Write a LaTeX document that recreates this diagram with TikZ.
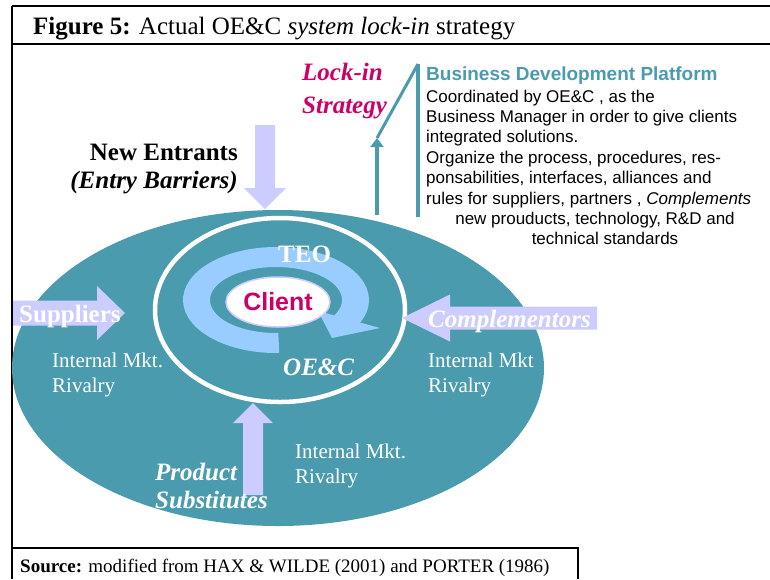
\documentclass[tikz,border=0pt]{standalone}
\usepackage{fontspec}
\setmainfont{Liberation Serif}
\setsansfont{Liberation Sans}
\usetikzlibrary{arrows.meta}
\usetikzlibrary{shapes.geometric}

\definecolor{marketteal}{RGB}{74,155,174}
\definecolor{forcelilac}{RGB}{204,204,255}
\definecolor{loopblue}{RGB}{153,204,255}
\definecolor{lockred}{RGB}{204,0,102}

% fat arrow: tip x, tip y, rotation, shaft length, shaft half width, head length, head half width
\newcommand{\forcearrow}[7]{\fill[forcelilac, shift={(#1,#2)}, rotate=#3] (0,0) -- (-#6,-#7) -- (-#6,-#5) -- (-#6-#4,-#5) -- (-#6-#4,#5) -- (-#6,#5) -- (-#6,#7) -- cycle;}
\newcommand{\rivalry}[4]{\node[rivaltext] (#3a) at (#1,#2) {#4}; \node[rivaltext] (#3b) at (#1,#2+25) {Rivalry};}

\begin{document}
\begin{tikzpicture}[x=1pt,y=-1pt,
    every node/.style={inner sep=0pt},
    frameline/.style={black, line width=2pt},
    bigserif/.style={anchor=base west, font=\fontsize{25}{28}\selectfont\bfseries},
    forcetext/.style={bigserif, text=white},
    rivaltext/.style={anchor=base west, text=white, font=\fontsize{21}{25}\selectfont},
    locktext/.style={bigserif, text=lockred, font=\fontsize{25}{28}\selectfont\bfseries\itshape},
    bodytext/.style={anchor=base west, font=\sffamily\fontsize{17}{20}\selectfont},
    lockline/.style={marketteal, line width=3.5pt}]
\useasboundingbox (0,0) rectangle (770,579);

        % frame
        \draw[frameline, line width=1.7pt] (12,6) -- (770,6);
        \draw[frameline, line width=2.6pt] (12,44) -- (770,44);
        \draw[frameline] (12,6) -- (12,579);
        \draw[frameline, line width=2.6pt] (12,548) -- (578,548) -- (578,579);

        \node[anchor=base west, font=\fontsize{25}{28}\selectfont] (title) at (33,34)
            {\textbf{Figure 5:} Actual OE\&C \textit{system lock-in} strategy};
        \node[anchor=base west, font=\fontsize{19}{22}\selectfont] (source) at (20,572)
            {\textbf{Source:} modified from HAX \& WILDE (2001) and PORTER (1986)};

        % market and inner ring
        \fill[marketteal] (278,368) ellipse [x radius=266, y radius=158];
        \draw[white, line width=4.5pt] (280,310) ellipse [x radius=125, y radius=92];

        % loop around the client
        \begin{scope}[shift={(276,300)}]
            \fill[loopblue] (88:93 and 53) arc[start angle=88, end angle=390, x radius=93, y radius=53]
                -- (390:66 and 33) arc[start angle=390, end angle=88, x radius=66, y radius=33] -- cycle;
        \end{scope}
        \fill[loopblue] (318,311) -- (332,338) -- (380,328) -- cycle;

        \node[ellipse, draw=forcelilac, line width=1.5pt, fill=white, minimum width=104pt, minimum height=50pt,
            text=lockred, font=\sffamily\bfseries\fontsize{25}{28}\selectfont] (client) at (278,302) {Client};
        \node[forcetext] (teo) at (278,262) {TEO};
        \node[forcetext, font=\fontsize{25}{28}\selectfont\bfseries\itshape] (oec) at (283,375) {OE\&C};

        % five forces
        \forcearrow{265}{209}{-90}{63}{10}{21}{21}
        \forcearrow{125}{313}{0}{84}{12.5}{28}{27}
        \forcearrow{402}{318}{180}{147}{11.5}{48}{23.5}
        \forcearrow{253}{403}{90}{72}{10}{20}{20}

        \node[bigserif, anchor=base east] (entrants) at (238,160) {New Entrants};
        \node[bigserif, anchor=base east, font=\fontsize{25}{28}\selectfont\bfseries\itshape] (barriers) at (238,188) {(Entry Barriers)};
        \node[forcetext] (suppliers) at (19,322) {Suppliers};
        \node[forcetext, font=\fontsize{25}{28}\selectfont\bfseries\itshape] (complementors) at (428,327) {Complementors};
        \node[forcetext, font=\fontsize{25}{28}\selectfont\bfseries\itshape] (product) at (155,480) {Product};
        \node[forcetext, font=\fontsize{25}{28}\selectfont\bfseries\itshape] (substitutes) at (155,508) {Substitutes};

        \rivalry{52}{367}{rivL}{Internal Mkt.}
        \rivalry{428}{367}{rivR}{Internal Mkt}
        \rivalry{295}{458}{rivB}{Internal Mkt.}

        % lock-in strategy
        \node[locktext] (lockin) at (302,80) {Lock-in};
        \node[locktext] (strategy) at (302,113) {Strategy};
        \coordinate (stembase) at (377,215);
        \coordinate (stemtip) at (377,138);
        \coordinate (bartop) at (418,64);
        \coordinate (barbot) at (418,217);
        \draw[lockline, line width=4pt, -{Triangle[length=9pt,width=13pt]}] (stembase) -- (stemtip);
        \draw[lockline, line width=3pt] (stemtip) -- (bartop);
        \draw[lockline, line width=3.3pt] (bartop) -- (barbot);

        \node[anchor=base west, text=marketteal, font=\sffamily\bfseries\fontsize{19}{21}\selectfont] (platform) at (426,80) {Business Development Platform};
        \node[bodytext] (body1) at (426,102) {Coordinated by OE\&C , as the};
        \node[bodytext] (body2) at (426,122.4) {Business Manager in order to give clients};
        \node[bodytext] (body3) at (426,142.8) {integrated solutions.};
        \node[bodytext] (body4) at (426,163.2) {Organize the process, procedures, res-};
        \node[bodytext] (body5) at (426,183.6) {ponsabilities, interfaces, alliances and};
        \node[bodytext] (body6) at (426,204) {rules for suppliers, partners , \textit{Complements}};
        \node[bodytext, anchor=base] (body7) at (595,224.4) {new prouducts, technology, R\&D and};
        \node[bodytext, anchor=base] (body8) at (605,244.8) {technical standards};

\end{tikzpicture}
\end{document}
